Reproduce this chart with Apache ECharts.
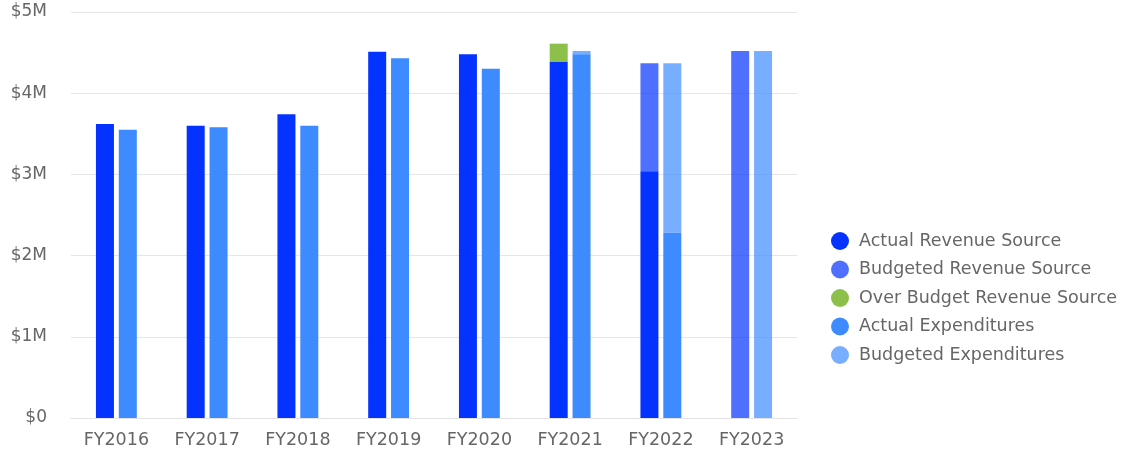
<!DOCTYPE html>
<html>
<head>
<meta charset="utf-8">
<script src="https://cdn.jsdelivr.net/npm/echarts@6/dist/echarts.min.js"></script>
<style>
  html, body { margin: 0; padding: 0; background: #fff; }
  #chart { width: 1134px; height: 453px; }
</style>
</head>
<body>
<div id="chart"></div>
<script>
const years = ['FY2016', 'FY2017', 'FY2018', 'FY2019', 'FY2020', 'FY2021', 'FY2022', 'FY2023']
const yTicks = [0, 1000000, 2000000, 3000000, 4000000, 5000000]

// values in dollars
const actualRevenue = [3620000, 3600000, 3740000, 4510000, 4480000, 4390000, 3040000, 0]
const budgetedRevenue = [0, 0, 0, 0, 0, 0, 1330000, 4520000]
const overBudgetRevenue = [0, 0, 0, 0, 0, 220000, 0, 0]
const actualExpenditures = [3550000, 3580000, 3600000, 4430000, 4300000, 4480000, 2280000, 0]
const budgetedExpenditures = [0, 0, 0, 0, 0, 40000, 2090000, 4520000]

const FONT = '"DejaVu Sans", sans-serif'

function bar(name, stack, data, color) {
  return {
    name,
    type: 'bar',
    stack,
    data: data.map((v) => (v === 0 ? null : v)),
    barWidth: 18,
    barGap: '27%',
    itemStyle: { color },
    emphasis: { disabled: true },
  }
}

const chart = echarts.init(document.getElementById('chart'))
chart.setOption({
  animation: false,
  textStyle: { fontFamily: FONT },
  grid: { left: 71, right: 337, top: 12, bottom: 35 },
  legend: {
    orient: 'vertical',
    left: 826,
    top: 227,
    icon: 'circle',
    itemWidth: 18,
    itemHeight: 18,
    itemGap: 10.5,
    textStyle: { fontFamily: FONT, fontSize: 17.5, lineHeight: 18, color: '#666', padding: [0, 0, 0, 5] },
    data: [
      'Actual Revenue Source',
      'Budgeted Revenue Source',
      'Over Budget Revenue Source',
      'Actual Expenditures',
      'Budgeted Expenditures',
    ],
  },
  xAxis: {
    type: 'category',
    data: years,
    axisLine: { lineStyle: { color: '#e3e3e3' } },
    axisTick: { show: false },
    axisLabel: { color: '#666', fontSize: 17.5, margin: 13, fontFamily: FONT },
  },
  yAxis: {
    type: 'value',
    min: yTicks[0],
    max: yTicks[yTicks.length - 1],
    interval: 1000000,
    axisLine: { show: false },
    axisTick: { show: false },
    splitLine: { lineStyle: { color: '#e6e6e6' } },
    axisLabel: {
      color: '#666',
      fontSize: 17,
      margin: 24,
      fontFamily: FONT,
      formatter: (v) => (v === 0 ? '$0' : '$' + v / 1000000 + 'M'),
    },
  },
  series: [
    bar('Actual Revenue Source', 'rev', actualRevenue, '#0433ff'),
    bar('Budgeted Revenue Source', 'rev', budgetedRevenue, 'rgba(4,51,255,0.7)'),
    bar('Over Budget Revenue Source', 'rev', overBudgetRevenue, '#8cc04b'),
    bar('Actual Expenditures', 'exp', actualExpenditures, '#3d8bff'),
    bar('Budgeted Expenditures', 'exp', budgetedExpenditures, 'rgba(61,139,255,0.7)'),
  ],
})
</script>
</body>
</html>
